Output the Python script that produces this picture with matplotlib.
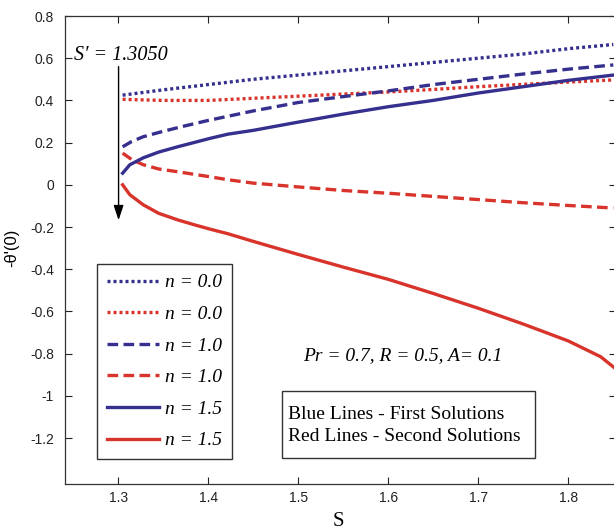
import matplotlib
matplotlib.use('Agg')
import matplotlib.pyplot as plt
from matplotlib.patches import Rectangle
from matplotlib.ticker import FuncFormatter

plt.rcParams['axes.unicode_minus'] = False

s_b0 = [1.305, 1.35, 1.4, 1.45, 1.5, 1.55, 1.6, 1.65, 1.7, 1.75, 1.8, 1.85]
th_b0 = [0.425, 0.45, 0.475, 0.5, 0.52, 0.54, 0.56, 0.58, 0.60, 0.62, 0.645, 0.665]

s_r0 = [1.305, 1.35, 1.4, 1.45, 1.5, 1.55, 1.6, 1.65, 1.7, 1.75, 1.8, 1.85]
th_r0 = [0.405, 0.40, 0.40, 0.41, 0.42, 0.43, 0.44, 0.452, 0.465, 0.476, 0.487, 0.497]

s_b1 = [1.305, 1.315, 1.328, 1.347, 1.37, 1.4, 1.45, 1.5, 1.55, 1.6, 1.65, 1.7, 1.75, 1.8, 1.85]
th_b1 = [0.18, 0.205, 0.228, 0.25, 0.275, 0.305, 0.35, 0.39, 0.418, 0.445, 0.475, 0.50, 0.525, 0.548, 0.568]

s_r1 = [1.305, 1.315, 1.328, 1.345, 1.366, 1.402, 1.422, 1.45, 1.5, 1.55, 1.6, 1.65, 1.7, 1.75, 1.8, 1.85]
th_r1 = [0.15, 0.12, 0.095, 0.075, 0.062, 0.038, 0.024, 0.008, -0.01, -0.027, -0.04, -0.055, -0.07, -0.085, -0.098, -0.11]

s_b15 = [1.305, 1.313, 1.328, 1.345, 1.366, 1.402, 1.422, 1.45, 1.5, 1.55, 1.6, 1.65, 1.7, 1.75, 1.8, 1.85]
th_b15 = [0.055, 0.095, 0.128, 0.155, 0.18, 0.22, 0.24, 0.258, 0.297, 0.335, 0.37, 0.40, 0.435, 0.465, 0.495, 0.52]

s_r15 = [1.305, 1.313, 1.328, 1.345, 1.366, 1.385, 1.402, 1.422, 1.45, 1.5, 1.55, 1.6, 1.65, 1.7, 1.75, 1.8, 1.836, 1.855]
th_r15 = [0.0, -0.047, -0.095, -0.135, -0.166, -0.19, -0.21, -0.232, -0.268, -0.33, -0.39, -0.448, -0.515, -0.585, -0.66, -0.74, -0.815, -0.88]

x_ticks = [1.3, 1.4, 1.5, 1.6, 1.7, 1.8]
y_ticks = [-1.2, -1.0, -0.8, -0.6, -0.4, -0.2, 0.0, 0.2, 0.4, 0.6, 0.8]

blue = '#352f8e'
red = '#d8342c'
serif = ['Liberation Serif', 'DejaVu Serif']
sans = ['Liberation Sans', 'DejaVu Sans']

fig = plt.figure(figsize=(6.14, 5.29), dpi=100)
ax = fig.add_axes([65 / 614, 1 - 484 / 529, 551 / 614, 468 / 529])

lw = 2.4
dot = (0, (0.9, 0.9))
dash = (0, (3.2, 1.6))
ax.plot(s_b0, th_b0, color=blue, lw=lw, ls=dot, label='n = 0.0')
ax.plot(s_r0, th_r0, color=red, lw=lw, ls=dot, label='n = 0.0')
ax.plot(s_b1, th_b1, color=blue, lw=lw, ls=dash, label='n = 1.0')
ax.plot(s_r1, th_r1, color=red, lw=lw, ls=dash, label='n = 1.0')
ax.plot(s_b15, th_b15, color=blue, lw=lw, ls='-', label='n = 1.5')
ax.plot(s_r15, th_r15, color=red, lw=lw, ls='-', label='n = 1.5')

ax.set_xlim(1.241, 1.853)
ax.set_ylim(-1.418, 0.8)
ax.set_xticks(x_ticks)
ax.set_yticks(y_ticks)
ax.yaxis.set_major_formatter(FuncFormatter(lambda v, p: f'{v:g}' if abs(v) > 1e-9 else '0'))
ax.tick_params(direction='in', length=5, width=0.8, top=True, right=True,
               labelsize=10, colors='#222222')
ax.tick_params(axis='x', pad=5)
ax.tick_params(axis='y', pad=8)
for lab in ax.get_xticklabels() + ax.get_yticklabels():
    lab.set_family(sans)
for sp in ax.spines.values():
    sp.set_linewidth(0.9)
    sp.set_color('#333333')

leg = ax.legend(loc='upper left', bbox_to_anchor=(0.058, 0.470), borderaxespad=0,
                fancybox=False, framealpha=1, edgecolor='#333333',
                handlelength=2.7, handletextpad=0.3, labelspacing=0.72,
                borderpad=0.5, prop={'family': serif, 'style': 'italic', 'size': 14})
leg.get_frame().set_linewidth(1.0)

ax.annotate('', xy=(1.3005, -0.168), xytext=(1.3005, 0.56),
            arrowprops=dict(arrowstyle='-|>,head_length=0.9,head_width=0.3',
                            color='black', lw=1.0, shrinkA=0, shrinkB=0))
ax.text(1.2515, 0.615, 'S′ = 1.3050', family=serif, style='italic', fontsize=14.5,
        va='center', ha='left')
ax.text(1.505, -0.81, 'Pr = 0.7, R = 0.5, A= 0.1', family=serif, style='italic',
        fontsize=14, va='center', ha='left')

ax.add_patch(Rectangle((1.4822, -1.294), 0.2811, 0.318, fill=True, fc='white',
                       ec='#333333', lw=1.0, zorder=4))
ax.text(1.489, -1.14, 'Blue Lines - First Solutions\nRed Lines - Second Solutions',
        family=serif, fontsize=14, va='center', ha='left', linespacing=1.4, zorder=5)

fig.text(12 / 614, 1 - 248 / 529, "-θ'(0)", rotation=90, family=sans, fontsize=12,
         va='center', ha='center')
fig.text(338 / 614, 1 - 521 / 529, 'S', family=serif, fontsize=15,
         va='center', ha='center')

fig.savefig('out.png', dpi=100)
